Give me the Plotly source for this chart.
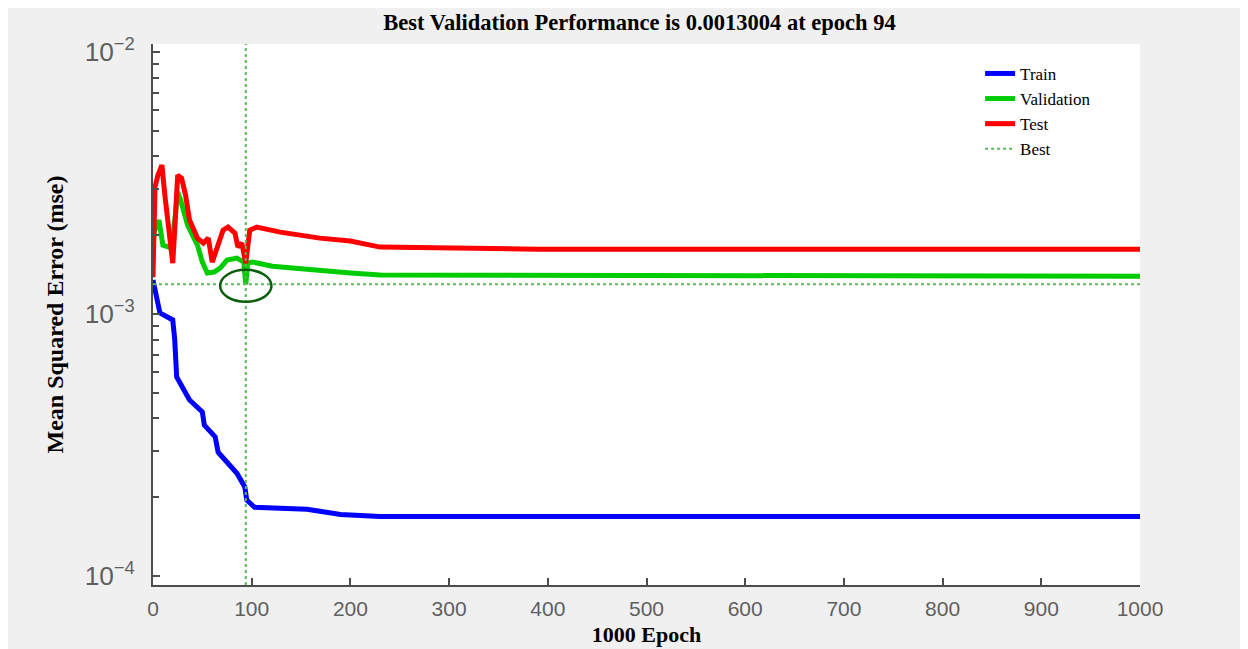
import plotly.graph_objects as go

# ---------------- data ----------------
train_epochs = [0, 7, 20, 22, 24, 29, 37, 50, 52, 63, 66, 85, 93, 95, 103, 122, 156, 190, 230, 1000]
train_mse = [1.35e-3, 1.01e-3, 9.5e-4, 8.0e-4, 5.75e-4, 5.36e-4, 4.7e-4, 4.23e-4, 3.77e-4, 3.4e-4,
             2.97e-4, 2.47e-4, 2.19e-4, 1.95e-4, 1.83e-4, 1.82e-4, 1.80e-4, 1.72e-4, 1.69e-4, 1.69e-4]

val_epochs = [0, 1, 6, 10, 16, 20, 25, 28, 35, 45, 50, 55, 62, 68, 75, 85, 92, 94, 96, 101,
              121, 169, 200, 230, 1000]
val_mse = [1.754e-3, 2.056e-3, 2.284e-3, 1.834e-3, 1.802e-3, 1.916e-3, 2.921e-3, 2.723e-3,
           2.186e-3, 1.834e-3, 1.579e-3, 1.434e-3, 1.447e-3, 1.498e-3, 1.607e-3, 1.636e-3,
           1.579e-3, 1.3004e-3, 1.565e-3, 1.579e-3, 1.524e-3, 1.459e-3, 1.434e-3, 1.409e-3, 1.396e-3]

test_epochs = [0, 1, 2, 5, 9, 12, 16, 20, 22, 25, 29, 33, 37, 45, 51, 56, 60, 65, 71, 76, 83,
               86, 90, 94, 98, 105, 129, 169, 200, 230, 390, 1000]
test_mse = [1.384e-3, 1.916e-3, 3.053e-3, 3.392e-3, 3.704e-3, 2.846e-3, 2.092e-3, 1.565e-3,
            2.092e-3, 3.392e-3, 3.304e-3, 2.846e-3, 2.284e-3, 1.950e-3, 1.866e-3, 1.950e-3,
            1.579e-3, 1.802e-3, 2.092e-3, 2.148e-3, 2.038e-3, 1.802e-3, 1.866e-3, 1.565e-3,
            2.092e-3, 2.148e-3, 2.056e-3, 1.950e-3, 1.900e-3, 1.802e-3, 1.770e-3, 1.770e-3]

best_epoch = 94
best_mse = 0.0013004
epoch_limits = [0, 1000]
mse_log_range = [-4.034, -1.969]

x_tick_vals = [0, 100, 200, 300, 400, 500, 600, 700, 800, 900, 1000]
y_minor_vals = [m * 10.0 ** e for e in (-4, -3) for m in range(2, 10)]

title_text = "Best Validation Performance is 0.0013004 at epoch 94"
x_title = "1000 Epoch"
y_title = "Mean Squared Error (mse)"

# ---------------- figure ----------------
AXIS_COL = "#4d4d4d"
TICK_FONT = dict(family="Liberation Sans, Arial", size=21, color="#5f5f5f")
SERIF = "Liberation Serif, Times New Roman, serif"
BEST_COL = "#5cb85c"

fig = go.Figure()
fig.add_trace(go.Scatter(x=train_epochs, y=train_mse, mode="lines", name="Train",
                         line=dict(color="#0000ff", width=5)))
fig.add_trace(go.Scatter(x=val_epochs, y=val_mse, mode="lines", name="Validation",
                         line=dict(color="#00cc00", width=5)))
fig.add_trace(go.Scatter(x=test_epochs, y=test_mse, mode="lines", name="Test",
                         line=dict(color="#ff0000", width=5)))
fig.add_trace(go.Scatter(x=epoch_limits, y=[best_mse, best_mse], mode="lines", name="Best",
                         line=dict(color=BEST_COL, width=2, dash="dot")))

# vertical best line spanning full plot height
fig.add_shape(type="line", xref="x", yref="y domain", x0=best_epoch, x1=best_epoch, y0=0, y1=1,
              line=dict(color=BEST_COL, width=2, dash="dot"), layer="above")
# ellipse around best point
fig.add_shape(type="circle", xref="x", yref="y",
              x0=best_epoch - 26, x1=best_epoch + 26,
              y0=best_mse / 10 ** 0.067, y1=best_mse * 10 ** 0.055,
              line=dict(color="#0b5e0b", width=2.5), layer="above")

fig.update_layout(
    width=1248, height=649,
    paper_bgcolor="#f0f0f0", plot_bgcolor="#ffffff",
    margin=dict(l=145, r=116, t=36, b=72),
    title=dict(text=f"<b>{title_text}</b>", x=0.506, xanchor="center", y=0.978, yanchor="middle",
               font=dict(family=SERIF, size=22.5, color="#000000")),
    showlegend=True,
    legend=dict(x=0.838, y=0.978, xanchor="left", yanchor="top", bgcolor="rgba(0,0,0,0)",
                font=dict(family=SERIF, size=17, color="#000000"), tracegroupgap=0),
    yaxis2=dict(type="log", range=mse_log_range, overlaying="y", anchor="x", side="left",
                tickvals=y_minor_vals, ticks="inside", ticklen=6, tickcolor=AXIS_COL, tickwidth=1.5,
                showticklabels=False, showgrid=False, zeroline=False, showline=False),
)
fig.update_xaxes(range=epoch_limits, tickvals=x_tick_vals, ticks="inside", ticklen=7,
                 tickcolor=AXIS_COL, tickwidth=1.5, showline=True, linecolor=AXIS_COL, linewidth=2,
                 showgrid=False, zeroline=False, tickfont=TICK_FONT, ticklabelstandoff=4,
                 title=dict(text=f"<b>{x_title}</b>", font=dict(family=SERIF, size=22, color="#000000"),
                            standoff=7))
fig.layout.yaxis.update(type="log", range=mse_log_range, dtick=1, exponentformat="power",
                        ticks="inside", ticklen=7, tickcolor=AXIS_COL, tickwidth=1.5,
                        showline=True, linecolor=AXIS_COL, linewidth=2, showgrid=False, zeroline=False,
                        tickfont=TICK_FONT, ticklabelstandoff=12,
                        title=dict(text=f"<b>{y_title}</b>",
                                   font=dict(family=SERIF, size=24, color="#000000"), standoff=14))

# invisible trace to activate the minor-tick axis
fig.add_trace(go.Scatter(x=[best_epoch], y=[best_mse], yaxis="y2", mode="markers",
                         marker=dict(opacity=0), showlegend=False, hoverinfo="skip"))

fig.write_html("out.html")
